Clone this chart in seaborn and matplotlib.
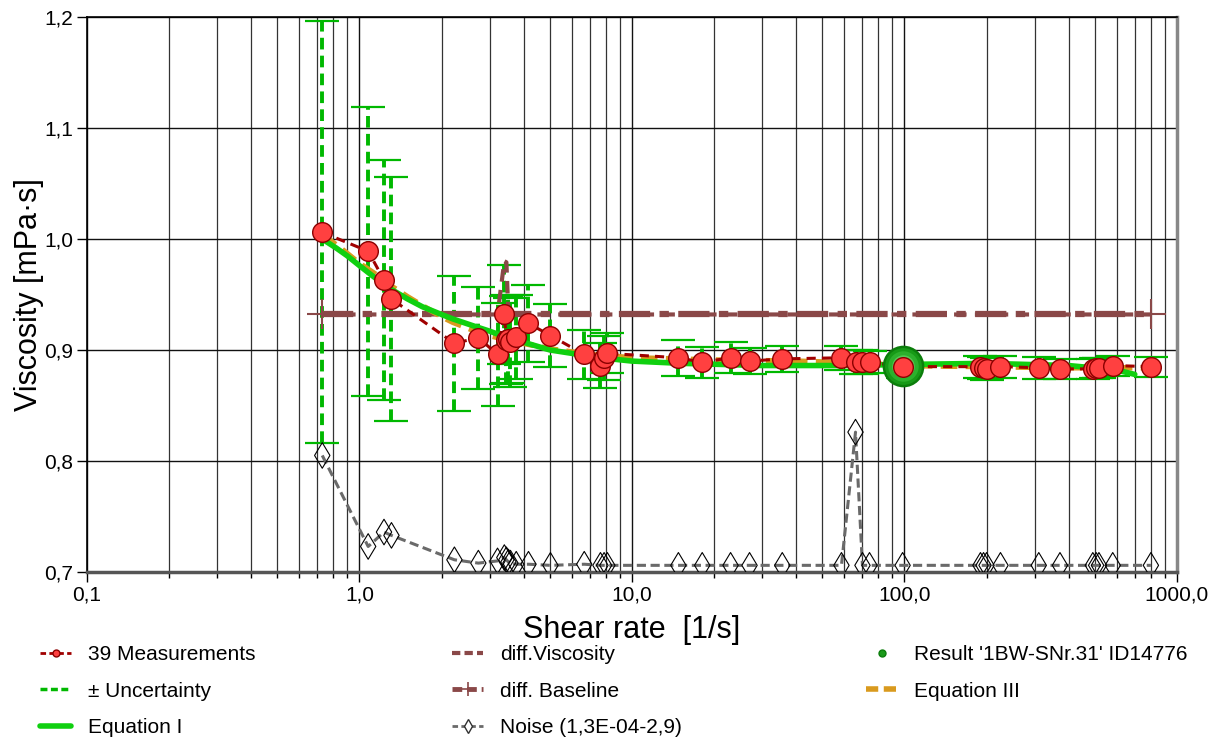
import matplotlib
matplotlib.use("Agg")
import matplotlib.pyplot as plt
import seaborn as sns
from matplotlib.lines import Line2D
from matplotlib.ticker import FixedLocator, FixedFormatter, LogLocator, FuncFormatter

# Data
shear_rate = [0.73, 1.076, 1.23, 1.31, 2.23, 2.73, 3.21, 3.40, 3.46, 3.52,
              3.58, 3.76, 4.17, 5.02, 6.68, 7.66, 7.9, 8.12, 14.8, 18.1,
              23.0, 27.0, 35.6, 58.7, 66.1, 70.1, 74.4, 98.4, 190, 195,
              200, 225, 311, 372, 491, 505, 517, 581, 802]
viscosity = [1.006, 0.989, 0.963, 0.946, 0.906, 0.911, 0.896, 0.932, 0.909, 0.910,
             0.907, 0.912, 0.924, 0.913, 0.896, 0.886, 0.893, 0.897, 0.893, 0.889,
             0.893, 0.890, 0.892, 0.893, 0.889, 0.889, 0.889, 0.885, 0.885, 0.884,
             0.883, 0.885, 0.884, 0.883, 0.883, 0.884, 0.884, 0.886, 0.885]
uncertainty = [0.190, 0.130, 0.108, 0.110, 0.061, 0.046, 0.046, 0.045, 0.040, 0.040,
               0.040, 0.038, 0.035, 0.028, 0.022, 0.020, 0.020, 0.018, 0.016, 0.014,
               0.014, 0.012, 0.012, 0.011, 0.011, 0.011, 0.010, 0.010, 0.010, 0.010,
               0.010, 0.010, 0.010, 0.009, 0.009, 0.009, 0.009, 0.009, 0.009]
noise = [0.805, 0.723, 0.736, 0.733, 0.711, 0.708, 0.710, 0.713, 0.711, 0.709,
         0.708, 0.707, 0.707, 0.706, 0.707, 0.706, 0.706, 0.706, 0.706, 0.706,
         0.706, 0.706, 0.706, 0.706, 0.826, 0.706, 0.706, 0.706, 0.706, 0.706,
         0.706, 0.706, 0.706, 0.706, 0.706, 0.706, 0.706, 0.706, 0.706]
diff_viscosity = [0.932, 0.932, 0.932, 0.932, 0.932, 0.932, 0.932, 0.980, 0.979, 0.932,
                  0.932, 0.932, 0.932, 0.932, 0.932, 0.932, 0.932, 0.932, 0.932, 0.932,
                  0.932, 0.932, 0.932, 0.932, 0.932, 0.932, 0.932, 0.932, 0.932, 0.932,
                  0.932, 0.932, 0.932, 0.932, 0.932, 0.932, 0.932, 0.932, 0.932]
baseline_level = 0.932

eq1_rate = [0.73, 0.82, 0.9, 1.0, 1.1, 1.2, 1.3, 1.5, 1.7, 2.0, 2.2, 2.6, 3.0, 3.5, 4.0,
            5.0, 6.0, 7.0, 10, 15, 30, 60, 100, 200, 400, 600, 700]
eq1_visc = [1.000, 0.992, 0.985, 0.976, 0.968, 0.961, 0.955, 0.946, 0.939, 0.932, 0.928,
            0.922, 0.917, 0.911, 0.907, 0.900, 0.897, 0.894, 0.890, 0.888, 0.886, 0.886,
            0.887, 0.888, 0.886, 0.882, 0.878]
eq3_rate = [0.73, 0.85, 1.0, 1.15, 1.3, 1.5, 1.7, 2.0, 2.2, 2.6, 3.0, 3.5, 4.0, 5.0, 7.0,
            10, 20, 40, 70, 100, 200, 400, 800]
eq3_visc = [1.004, 0.992, 0.978, 0.968, 0.958, 0.948, 0.940, 0.930, 0.925, 0.918, 0.913,
            0.909, 0.906, 0.901, 0.896, 0.893, 0.891, 0.890, 0.888, 0.886, 0.885, 0.884, 0.884]

result_rate = [98.4]
result_visc = [0.886]

x_ticks = [0.1, 1, 10, 100, 1000]
x_labels = ["0,1", "1,0", "10,0", "100,0", "1000,0"]
y_ticks = [0.7, 0.8, 0.9, 1.0, 1.1, 1.2]

RED_LINE = "#a00000"
RED_FILL = "#ff4040"
GREEN = "#00b800"
GREEN_LINE = "#10d010"
BROWN = "#8a4848"
ORANGE = "#d99a1e"
GREY = "#6a6a6a"

sns.set_theme(style="white")
plt.rcParams['font.family'] = ['Liberation Sans', 'DejaVu Sans']
plt.rcParams.update({'text.color': 'black', 'axes.labelcolor': 'black',
                     'xtick.color': 'black', 'ytick.color': 'black'})

W, H = 1212, 740
fig = plt.figure(figsize=(W / 100, H / 100), dpi=100)
ax = fig.add_axes([87 / W, 1 - 572 / H, (1177 - 87) / W, (572 - 17) / H])
ax.set_xscale('log')
ax.set_xlim(0.1, 1000)
ax.set_ylim(0.7, 1.2)

# grid: log major + minor vertical lines, major horizontal lines
ax.xaxis.set_major_locator(FixedLocator(x_ticks))
ax.xaxis.set_major_formatter(FixedFormatter(x_labels))
ax.xaxis.set_minor_locator(LogLocator(base=10, subs=range(2, 10)))
ax.yaxis.set_major_locator(FixedLocator(y_ticks))
ax.yaxis.set_major_formatter(FuncFormatter(lambda v, p: f"{v:.1f}".replace('.', ',')))
ax.set_axisbelow(True)
ax.grid(which='major', axis='both', color='#111111', lw=1.0)
ax.grid(which='minor', axis='x', color='#333333', lw=0.9)

# uncertainty bars
eb = ax.errorbar(shear_rate, viscosity, yerr=uncertainty, fmt='none', ecolor=GREEN,
                 elinewidth=2.8, capsize=12, capthick=1.6, zorder=2)
eb[2][0].set_linestyle((0, (3, 1.6)))
for cap in eb[1]:
    cap.set_color("#2aa62a")

# noise
sns.lineplot(x=shear_rate, y=noise, ax=ax, estimator=None, sort=False, color=GREY,
             lw=2.2, linestyle=(0, (3, 1.5)), zorder=3)
sns.scatterplot(x=shear_rate, y=noise, ax=ax, marker='d', s=170, fc='none',
                ec='black', linewidth=0.8, zorder=3.5)

# diff. baseline and diff. viscosity
ax.plot([shear_rate[0], shear_rate[-1]], [baseline_level, baseline_level], color=BROWN,
        lw=4.5, linestyle=(0, (5, 1.5, 1.5, 1.5)), marker='+', markersize=22,
        markeredgewidth=1.5, zorder=3)
sns.lineplot(x=shear_rate, y=diff_viscosity, ax=ax, estimator=None, sort=False,
             color=BROWN, lw=3, linestyle=(0, (3, 2)), zorder=3.2)

# equations
sns.lineplot(x=eq3_rate, y=eq3_visc, ax=ax, estimator=None, sort=False, color=ORANGE,
             lw=4, linestyle=(0, (3, 1.5)), zorder=4)
sns.lineplot(x=eq1_rate, y=eq1_visc, ax=ax, estimator=None, sort=False, color=GREEN_LINE,
             lw=4, zorder=4.5)

# measurements
sns.lineplot(x=shear_rate, y=viscosity, ax=ax, estimator=None, sort=False,
             color=RED_LINE, lw=2.2, linestyle=(0, (3, 2)), zorder=5)
sns.scatterplot(x=shear_rate, y=viscosity, ax=ax, s=200, color=RED_FILL,
                edgecolor="#8b0000", linewidth=1.0, zorder=6)

# result marker (shaded green ball)
for size, col in [(900, "#0b7d0b"), (700, "#179a17"), (480, "#2cb02c"), (260, "#55c855")]:
    sns.scatterplot(x=result_rate, y=result_visc, ax=ax, s=size, color=col,
                    linewidth=0, zorder=7)
sns.scatterplot(x=result_rate[:1], y=[viscosity[27]], ax=ax, s=200, color=RED_FILL,
                edgecolor="#8b0000", linewidth=1.0, zorder=8)

# axes styling
for side in ['top', 'left']:
    ax.spines[side].set_color('black')
    ax.spines[side].set_linewidth(1.2)
ax.spines['bottom'].set_color('#555555')
ax.spines['bottom'].set_linewidth(2.5)
ax.spines['right'].set_color('#888888')
ax.spines['right'].set_linewidth(2.5)
ax.tick_params(axis='both', which='major', direction='out', length=7, width=1,
               color='black', labelcolor='black', labelsize=15, pad=3,
               bottom=True, left=True)
ax.tick_params(axis='x', which='minor', length=4, bottom=True)
ax.set_xlabel("Shear rate  [1/s]", fontsize=22, labelpad=7, color='black')
ax.set_ylabel("Viscosity [mPa·s]", fontsize=22, labelpad=0, color='black')

# legend in three columns below the plot
h_meas = Line2D([], [], color=RED_LINE, lw=2, linestyle=(0, (2, 1.2)), marker='o',
                markersize=5, markerfacecolor=RED_FILL, markeredgecolor="#8b0000")
h_unc = Line2D([], [], color=GREEN, lw=2.5, linestyle=(0, (2, 1)))
h_eq1 = Line2D([], [], color=GREEN_LINE, lw=4)
h_dv = Line2D([], [], color=BROWN, lw=3, linestyle=(0, (2, 1)))
h_db = Line2D([], [], color=BROWN, lw=3.5, linestyle=(0, (2, 1)), marker='+',
              markersize=10, markeredgewidth=1.2)
h_noise = Line2D([], [], color=GREY, lw=2, linestyle=(0, (2, 1.2)), marker='d',
                 markersize=7, markerfacecolor='white', markeredgecolor='#333333')
h_res = Line2D([], [], color='none', marker='o', markersize=5,
               markerfacecolor="#1a9a1a", markeredgecolor="#0b7d0b")
h_eq3 = Line2D([], [], color=ORANGE, lw=4, linestyle=(0, (2.2, 1)))

columns = [
    (40, [h_meas, h_unc, h_eq1], ["39 Measurements", "± Uncertainty", "Equation I"]),
    (452, [h_dv, h_db, h_noise], ["diff.Viscosity", "diff. Baseline", "Noise (1,3E-04-2,9)"]),
    (866, [h_res, h_eq3], ["Result '1BW-SNr.31' ID14776", "Equation III"]),
]
for x0, hs, ls in columns:
    leg = fig.legend(hs, ls, loc='upper left', bbox_to_anchor=(x0 / W, 1 - 645 / H),
                     frameon=False, fontsize=15, handlelength=1.5, handletextpad=0.8,
                     labelspacing=0.85, borderpad=0, borderaxespad=0)
    for t in leg.get_texts():
        t.set_color('black')

fig.savefig("out.png", dpi=100)
